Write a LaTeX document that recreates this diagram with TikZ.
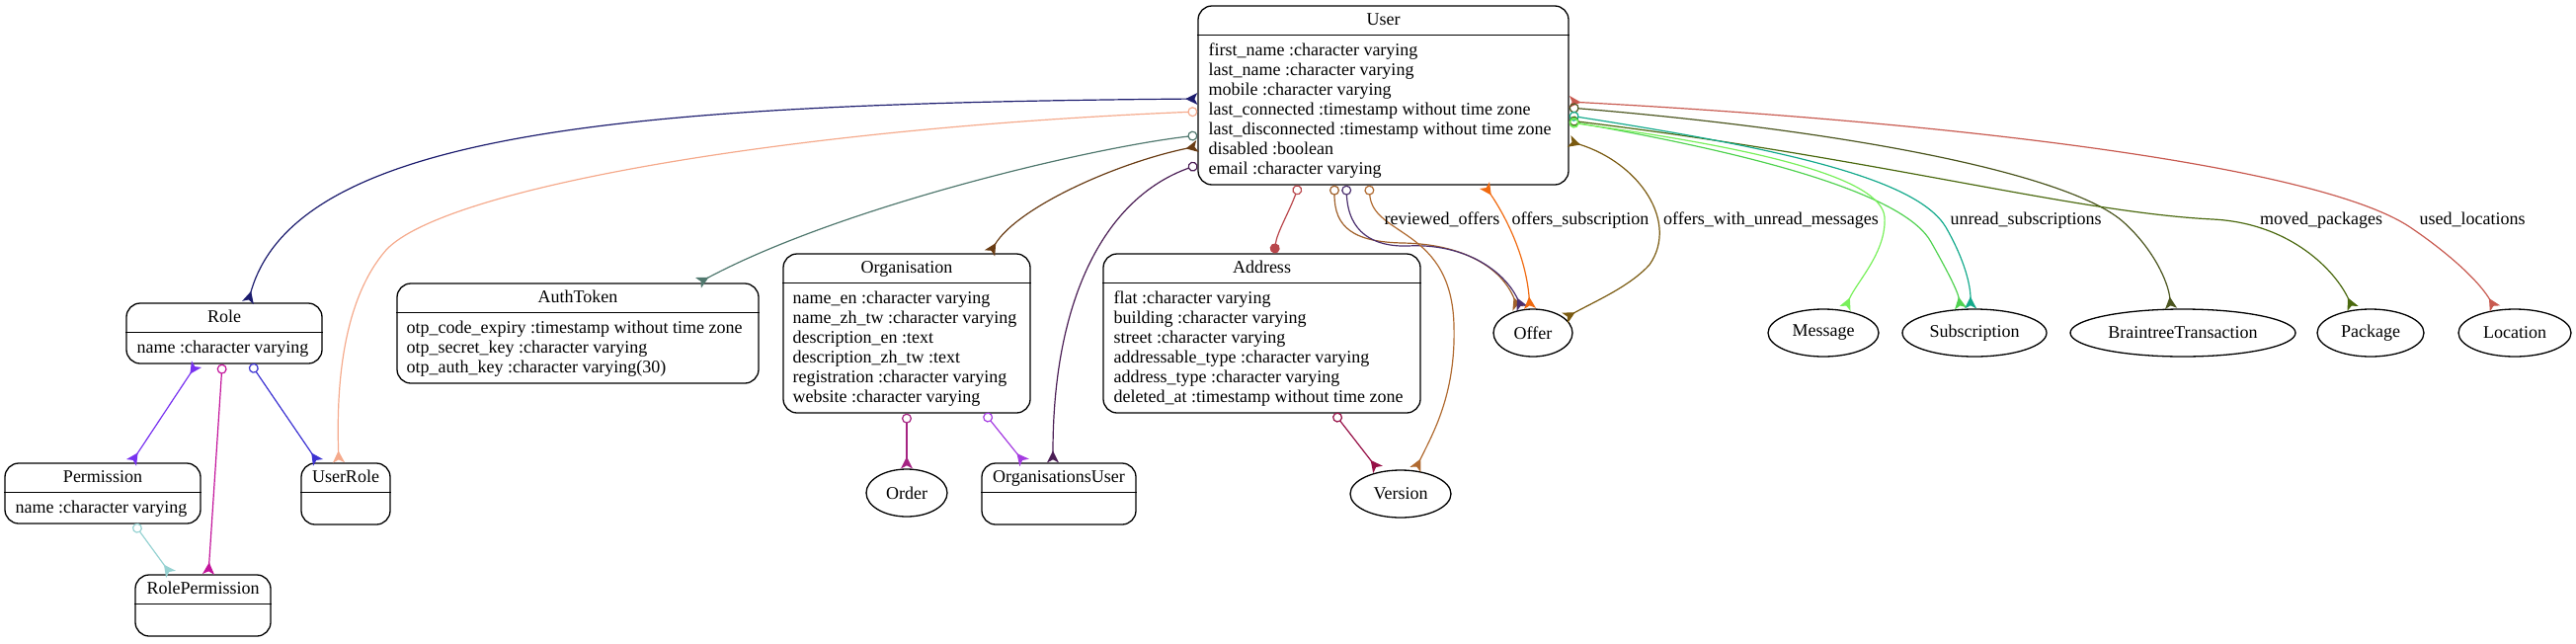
\documentclass[tikz,border=0pt]{standalone}
\usepackage{fontspec}
\setmainfont{Liberation Serif}
\usepackage{xcolor}
\usetikzlibrary{arrows.meta,shapes.geometric}

\definecolor{navyedge}{RGB}{28,28,110}
\definecolor{salmonedge}{RGB}{245,170,140}
\definecolor{authedge}{RGB}{80,120,110}
\definecolor{orgedge}{RGB}{105,60,20}
\definecolor{orgusredge}{RGB}{75,30,85}
\definecolor{addredge}{RGB}{185,70,75}
\definecolor{revedge}{RGB}{160,96,42}
\definecolor{offpurple}{RGB}{75,47,110}
\definecolor{veredge}{RGB}{176,106,48}
\definecolor{orangeedge}{RGB}{240,106,16}
\definecolor{oliveedge}{RGB}{122,90,16}
\definecolor{locedge}{RGB}{200,90,80}
\definecolor{btedge}{RGB}{75,85,30}
\definecolor{pkgedge}{RGB}{75,105,15}
\definecolor{tealedge}{RGB}{20,170,140}
\definecolor{subedge}{RGB}{80,210,80}
\definecolor{msgedge}{RGB}{120,240,90}
\definecolor{violetedge}{RGB}{120,50,240}
\definecolor{magentaedge}{RGB}{195,20,155}
\definecolor{blueedge}{RGB}{60,50,210}
\definecolor{ltealedge}{RGB}{150,210,210}
\definecolor{orderedge}{RGB}{165,35,130}
\definecolor{ouedge}{RGB}{165,60,225}
\definecolor{avedge}{RGB}{150,15,70}

\tikzset{
  crow/.tip={Stealth[reversed, length=12pt, width=12pt, inset=3pt]},
  odot/.tip={Circle[open, length=10pt, width=10pt]},
  fdot/.tip={Circle[length=10pt, width=10pt]},
}

\begin{document}
\begin{tikzpicture}[x=1pt, y=-1pt,
  every node/.style={font=\fontsize{18}{20}\selectfont},
  entity/.style={draw, rounded corners=14pt, line width=1.3pt},
  model/.style={draw, ellipse, inner sep=0pt, minimum height=48pt, line width=1.3pt},
  title/.style={anchor=base, inner sep=0pt},
  attrs/.style={anchor=north west, align=left, inner sep=0pt},
  rel/.style={line width=1.2pt}]
  \useasboundingbox (0,0) rectangle (2608,651);

  % entities with attributes
  \node[entity, minimum width=375pt, minimum height=181pt] (user) at (1400.5,96.5) {};
  \draw[line width=1.3pt] ([yshift=-30pt]user.north west) -- ([yshift=-30pt]user.north east);
  \node[title] (user-t) at ([yshift=-20pt]user.north) {User};
  \node[attrs] (user-a) at ([xshift=11pt, yshift=-37pt]user.north west)
      {\strut first\_name :character varying\\last\_name :character varying\\mobile :character varying\\
       last\_connected :timestamp without time zone\\last\_disconnected :timestamp without time zone\\
       disabled :boolean\\email :character varying};

  \node[entity, minimum width=198pt, minimum height=61pt] (role) at (227,337.5) {};
  \draw[line width=1.3pt] ([yshift=-30pt]role.north west) -- ([yshift=-30pt]role.north east);
  \node[title] (role-t) at ([yshift=-20pt]role.north) {Role};
  \node[attrs] (role-a) at ([xshift=11pt, yshift=-37pt]role.north west) {\strut name :character varying};

  \node[entity, minimum width=198pt, minimum height=61pt] (permission) at (104,499.5) {};
  \draw[line width=1.3pt] ([yshift=-30pt]permission.north west) -- ([yshift=-30pt]permission.north east);
  \node[title] (permission-t) at ([yshift=-20pt]permission.north) {Permission};
  \node[attrs] (permission-a) at ([xshift=11pt, yshift=-37pt]permission.north west) {\strut name :character varying};

  \node[entity, minimum width=90pt, minimum height=62pt] (userrole) at (350,500) {};
  \draw[line width=1.3pt] ([yshift=-30pt]userrole.north west) -- ([yshift=-30pt]userrole.north east);
  \node[title] (userrole-t) at ([yshift=-20pt]userrole.north) {UserRole};

  \node[entity, minimum width=137pt, minimum height=62pt] (rolepermission) at (205.5,613) {};
  \draw[line width=1.3pt] ([yshift=-30pt]rolepermission.north west) -- ([yshift=-30pt]rolepermission.north east);
  \node[title] (rolepermission-t) at ([yshift=-20pt]rolepermission.north) {RolePermission};

  \node[entity, minimum width=366pt, minimum height=101pt] (authtoken) at (585,337.5) {};
  \draw[line width=1.3pt] ([yshift=-30pt]authtoken.north west) -- ([yshift=-30pt]authtoken.north east);
  \node[title] (authtoken-t) at ([yshift=-20pt]authtoken.north) {AuthToken};
  \node[attrs] (authtoken-a) at ([xshift=10pt, yshift=-37pt]authtoken.north west)
      {\strut otp\_code\_expiry :timestamp without time zone\\otp\_secret\_key :character varying\\
       otp\_auth\_key :character varying(30)};

  \node[entity, minimum width=250pt, minimum height=161pt] (organisation) at (918,337.5) {};
  \draw[line width=1.3pt] ([yshift=-30pt]organisation.north west) -- ([yshift=-30pt]organisation.north east);
  \node[title] (organisation-t) at ([yshift=-20pt]organisation.north) {Organisation};
  \node[attrs] (organisation-a) at ([xshift=10pt, yshift=-37pt]organisation.north west)
      {\strut name\_en :character varying\\name\_zh\_tw :character varying\\description\_en :text\\
       description\_zh\_tw :text\\registration :character varying\\website :character varying};

  \node[entity, minimum width=156pt, minimum height=62pt] (orgusers) at (1072,500) {};
  \draw[line width=1.3pt] ([yshift=-30pt]orgusers.north west) -- ([yshift=-30pt]orgusers.north east);
  \node[title] (orgusers-t) at ([yshift=-20pt]orgusers.north) {OrganisationsUser};

  \node[entity, minimum width=321pt, minimum height=161pt] (address) at (1277.5,337.5) {};
  \draw[line width=1.3pt] ([yshift=-30pt]address.north west) -- ([yshift=-30pt]address.north east);
  \node[title] (address-t) at ([yshift=-20pt]address.north) {Address};
  \node[attrs] (address-a) at ([xshift=11pt, yshift=-37pt]address.north west)
      {\strut flat :character varying\\building :character varying\\street :character varying\\
       addressable\_type :character varying\\address\_type :character varying\\
       deleted\_at :timestamp without time zone};

  % models without attributes
  \node[model, minimum width=82pt] (order) at (918,499) {Order};
  \node[model, minimum width=102pt] (version) at (1418,500) {Version};
  \node[model, minimum width=80pt] (offer) at (1552,337) {Offer};
  \node[model, minimum width=112pt] (message) at (1846,337) {Message};
  \node[model, minimum width=146pt] (subscription) at (1999,337) {Subscription};
  \node[model, minimum width=228pt] (braintree) at (2210,337) {BraintreeTransaction};
  \node[model, minimum width=108pt] (package) at (2400,337) {Package};
  \node[model, minimum width=114pt] (location) at (2546,337) {Location};

  % relations from the left side of User
  \draw[rel, navyedge, crow-crow] ([yshift=-3.5pt]user.west) .. controls (650,105) and (300,130) .. ([xshift=24pt]role.north);
  \draw[rel, salmonedge, odot-crow] ([yshift=-16.5pt]user.west) .. controls (800,130) and (450,190) .. (391,253)
      .. controls (350,300) and (340,380) .. ([xshift=-7pt]userrole.north);
  \draw[rel, authedge, odot-crow] ([yshift=-40.5pt]user.west) .. controls (1100,150) and (850,210) .. ([xshift=122pt]authtoken.north);
  \draw[rel, orgedge, crow-crow] ([yshift=-51.5pt]user.west) .. controls (1130,165) and (1030,210) .. ([xshift=84pt]organisation.north);
  \draw[rel, orgusredge, odot-crow] ([yshift=-70.5pt]user.west) .. controls (1120,200) and (1066,300) .. ([xshift=-6pt]orgusers.north);

  % relations from the bottom of User
  \draw[rel, addredge, odot-fdot] ([xshift=-85.5pt]user.south) .. controls (1305,215) and (1293,235) .. ([xshift=12.5pt]address.north);
  \draw[rel, revedge, odot-crow] ([xshift=-49.5pt]user.south) .. controls (1351,230) and (1370,245) .. (1420,246)
      .. controls (1480,247) and (1520,270) .. ([xshift=-15pt]offer.north);
  \draw[rel, offpurple, odot-crow] ([xshift=-37.5pt]user.south) .. controls (1365,235) and (1390,250) .. (1425,249)
      .. controls (1480,246) and (1522,272) .. ([xshift=-11pt]offer.north);
  \draw[rel, veredge, odot-crow] ([xshift=-14.5pt]user.south) .. controls (1390,240) and (1470,230) .. (1472,330)
      .. controls (1474,400) and (1450,440) .. ([xshift=15pt]version.north);
  \draw[rel, orangeedge, crow-crow] ([xshift=102.5pt]user.south) .. controls (1525,220) and (1545,260) .. ([xshift=-3pt]offer.north);

  % relations from the right side of User
  \draw[rel, oliveedge, crow-crow] ([yshift=-46.5pt]user.east) .. controls (1660,165) and (1700,225) .. (1670,268)
      .. controls (1650,290) and (1615,305) .. (offer.25);
  \draw[rel, locedge, crow-crow] ([yshift=-6.5pt]user.east) .. controls (2000,125) and (2350,170) .. (2440,230)
      .. controls (2480,257) and (2510,285) .. ([xshift=-20pt]location.north);
  \draw[rel, btedge, odot-crow] ([yshift=-12.5pt]user.east) .. controls (1900,135) and (2100,180) .. (2150,225)
      .. controls (2180,252) and (2195,285) .. ([xshift=-12pt]braintree.north);
  \draw[rel, pkgedge, odot-crow] ([yshift=-25.5pt]user.east) .. controls (1900,160) and (2100,215) .. (2240,222)
      .. controls (2320,226) and (2365,275) .. ([xshift=-18pt]package.north);
  \draw[rel, tealedge, odot-crow] ([yshift=-20.5pt]user.east) .. controls (1800,150) and (1940,180) .. (1970,230)
      .. controls (1990,265) and (1995,290) .. ([xshift=-4pt]subscription.north);
  \draw[rel, subedge, odot-crow] ([yshift=-26.5pt]user.east) .. controls (1800,160) and (1930,200) .. (1955,245)
      .. controls (1972,275) and (1982,295) .. ([xshift=-14pt]subscription.north);
  \draw[rel, msgedge, odot-crow] ([yshift=-27.5pt]user.east) .. controls (1780,150) and (1905,180) .. (1908,220)
      .. controls (1910,255) and (1880,285) .. ([xshift=22pt]message.north);

  % relations between the other models
  \draw[rel, violetedge, crow-crow] ([xshift=-28pt]role.south) -- ([xshift=29pt]permission.north);
  \draw[rel, magentaedge, odot-crow] ([xshift=-2pt]role.south) -- ([xshift=5.5pt]rolepermission.north);
  \draw[rel, blueedge, odot-crow] ([xshift=27pt]role.south) -- ([xshift=-28pt]userrole.north);
  \draw[rel, ltealedge, odot-crow] ([xshift=32pt]permission.south) -- ([xshift=-32.5pt]rolepermission.north);
  \draw[rel, orderedge, odot-crow] (organisation.south) -- (order.north);
  \draw[rel, ouedge, odot-crow] ([xshift=79pt]organisation.south) -- ([xshift=-35pt]orgusers.north);
  \draw[rel, avedge, odot-crow] ([xshift=73.5pt]address.south) -- ([xshift=-23pt]version.north);

  % edge labels
  \node[anchor=base] (reviewed-l) at (1460,227) {reviewed\_offers};
  \node[anchor=base] (offsub-l) at (1600,227) {offers\_subscription};
  \node[anchor=base] (offunread-l) at (1793,227) {offers\_with\_unread\_messages};
  \node[anchor=base] (unreadsub-l) at (2051,227) {unread\_subscriptions};
  \node[anchor=base] (moved-l) at (2350,227) {moved\_packages};
  \node[anchor=base] (usedloc-l) at (2503,227) {used\_locations};
\end{tikzpicture}
\end{document}
